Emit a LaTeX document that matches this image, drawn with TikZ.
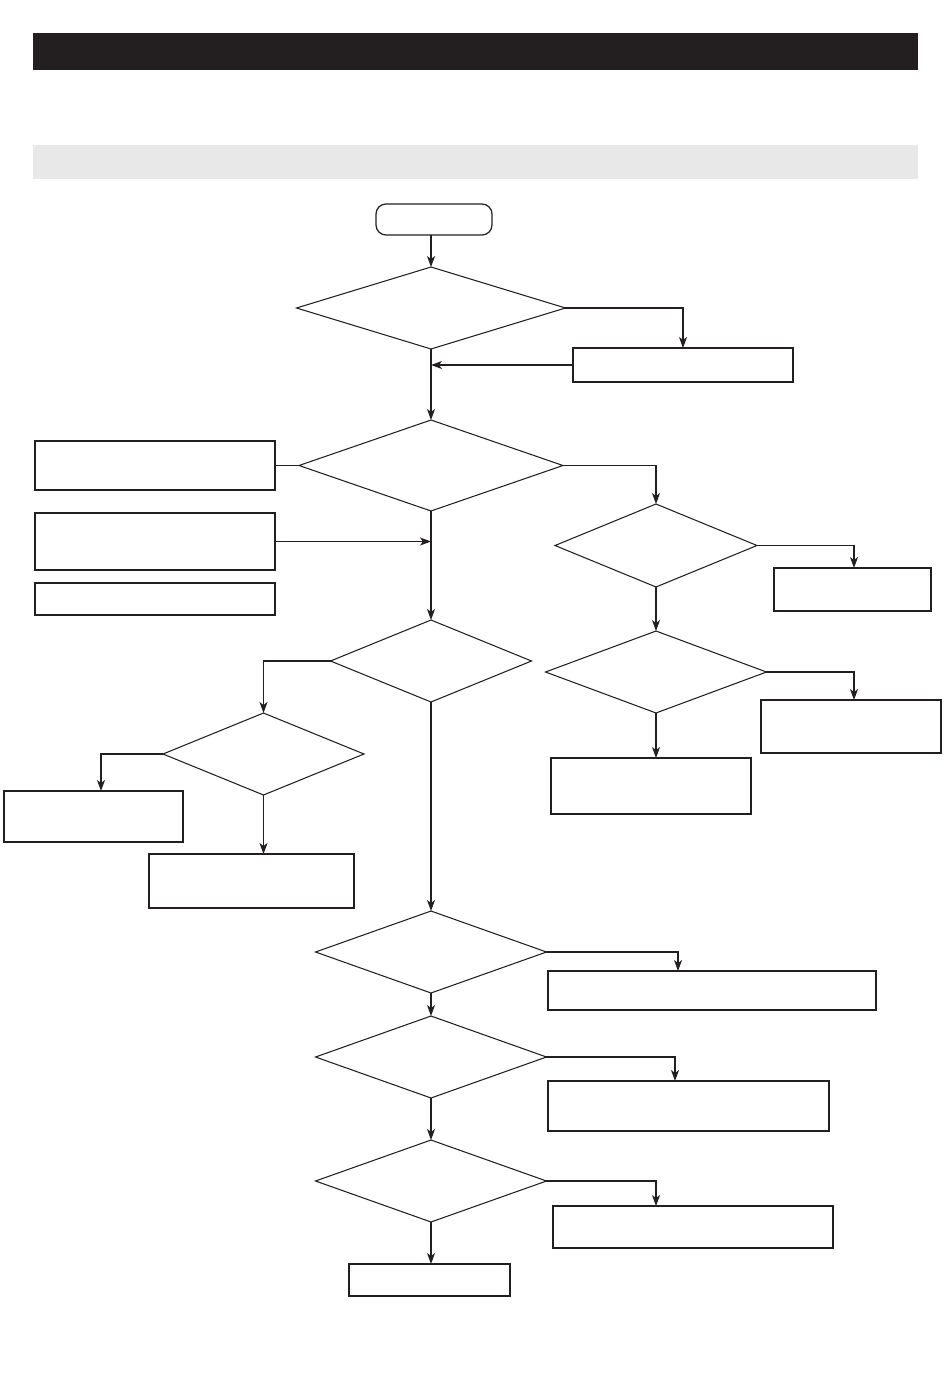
\documentclass[tikz,border=0pt]{standalone}
\usepackage{tikz}
\usetikzlibrary{arrows.meta,positioning,shapes.geometric}
\usepackage{xcolor}
\definecolor{ink}{HTML}{231F20}
\definecolor{band}{HTML}{E8E8E8}
\tikzset{
  box/.style={draw=ink,line width=0.7pt,rectangle,inner sep=0pt,outer sep=0pt},
  startbox/.style={box,rounded corners=0.2cm,minimum width=2.32cm,minimum height=0.62cm},
  decision/.style={draw=ink,line width=0.6pt,diamond,inner sep=0pt,outer sep=0pt},
  arrow/.style={-{Stealth[length=2.2mm,width=1.6mm,inset=0.6mm]},draw=ink,line width=0.6pt},
  link/.style={draw=ink,line width=0.6pt}
}
\begin{document}
\begin{tikzpicture}[x=0.02cm,y=-0.02cm]
  \useasboundingbox (0,0) rectangle (950,1378);
  % header bands
  \fill[ink] (33,33) rectangle (918,70);
  \fill[band] (33,145) rectangle (918,179);
  % main column
  \node[startbox] (start) at (434,219.5) {};
  \node[decision,minimum width=5.38cm,minimum height=1.64cm] (d1) at (431,308) {};
  \node[box,minimum width=4.40cm,minimum height=0.68cm] (b1) at (683,365) {};
  \node[decision,minimum width=5.28cm,minimum height=1.82cm] (d2) at (431,465.5) {};
  \node[box,minimum width=4.80cm,minimum height=0.98cm] (l1) at (155,465.5) {};
  \node[box,minimum width=4.80cm,minimum height=1.14cm] (l2) at (155,541.5) {};
  \node[box,minimum width=4.80cm,minimum height=0.64cm] (l3) at (155,599) {};
  \node[decision,minimum width=4.02cm,minimum height=1.64cm] (d3) at (431,661) {};
  % right branch
  \node[decision,minimum width=4.04cm,minimum height=1.66cm] (d4) at (656,545.5) {};
  \node[box,minimum width=3.14cm,minimum height=0.86cm] (r1) at (852.5,589.5) {};
  \node[decision,minimum width=4.42cm,minimum height=1.64cm] (d5) at (656,672) {};
  \node[box,minimum width=3.60cm,minimum height=1.06cm] (r2) at (851,726.5) {};
  \node[box,minimum width=4.00cm,minimum height=1.12cm] (r3) at (651,786) {};
  % left branch
  \node[decision,minimum width=4.02cm,minimum height=1.64cm] (d6) at (263.5,754) {};
  \node[box,minimum width=3.58cm,minimum height=1.02cm] (l4) at (93.5,816.5) {};
  \node[box,minimum width=4.10cm,minimum height=1.08cm] (l5) at (251.5,881) {};
  % lower column
  \node[decision,minimum width=4.62cm,minimum height=1.64cm] (d7) at (431,952) {};
  \node[box,minimum width=6.56cm,minimum height=0.78cm] (c1) at (712,990.5) {};
  \node[decision,minimum width=4.62cm,minimum height=1.64cm] (d8) at (431,1057) {};
  \node[box,minimum width=5.62cm,minimum height=1.00cm] (c2) at (688.5,1106) {};
  \node[decision,minimum width=4.62cm,minimum height=1.64cm] (d9) at (431,1181) {};
  \node[box,minimum width=5.60cm,minimum height=0.84cm] (c3) at (693,1227) {};
  \node[box,minimum width=3.22cm,minimum height=0.64cm] (c4) at (429.5,1280) {};
  % connectors
  \draw[arrow] (start.south -| d1.north) -- (d1.north);
  \draw[arrow] (d1.east) -| (b1.north);
  \draw[arrow] (b1.west) -- (b1.west -| d1.south);
  \draw[arrow] (d1.south) -- (d2.north);
  \draw[link] (l1.east) -- (d2.west);
  \draw[arrow] (l2.east) -- (l2.east -| d2.south);
  \draw[arrow] (d2.south) -- (d3.north);
  \draw[arrow] (d2.east) -| (d4.north);
  \draw[arrow] (d4.east) -| ([xshift=0.03cm]r1.north);
  \draw[arrow] (d4.south) -- (d5.north);
  \draw[arrow] (d5.east) -| ([xshift=0.06cm]r2.north);
  \draw[arrow] (d5.south) -- (d5.south |- r3.north);
  \draw[arrow] (d3.west) -| (d6.north);
  \draw[arrow] (d6.west) -| ([xshift=0.15cm]l4.north);
  \draw[arrow] (d6.south) -- (d6.south |- l5.north);
  \draw[arrow] (d3.south) -- (d7.north);
  \draw[arrow] (d7.east) -| ([xshift=2.6cm]c1.north west);
  \draw[arrow] (d7.south) -- (d8.north);
  \draw[arrow] (d8.east) -| ([xshift=2.54cm]c2.north west);
  \draw[arrow] (d8.south) -- (d9.north);
  \draw[arrow] (d9.east) -| ([xshift=2.06cm]c3.north west);
  \draw[arrow] (d9.south) -- (d9.south |- c4.north);
\end{tikzpicture}
\end{document}
